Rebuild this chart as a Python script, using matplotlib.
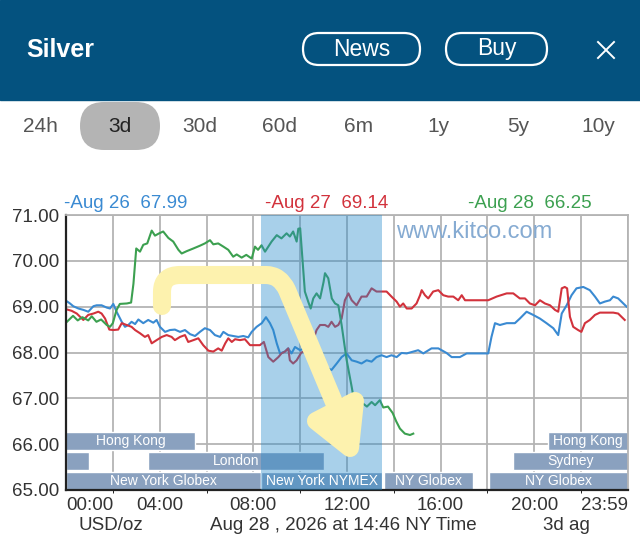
import matplotlib
matplotlib.use("Agg")
import matplotlib.pyplot as plt
from matplotlib.patches import FancyBboxPatch, Rectangle, PathPatch, Polygon
from matplotlib.path import Path

plt.rcParams['font.family'] = ['Liberation Sans', 'DejaVu Sans']

# --- data (hour of day NY time, price USD/oz) ---
aug26_h = [0.0, 0.17, 0.31, 0.53, 0.74, 0.95, 1.17, 1.31, 1.52, 1.74, 1.88, 2.02, 2.16, 2.38, 2.52,
           2.66, 2.8, 2.95, 3.09, 3.3, 3.51, 3.73, 3.87, 4.01, 4.23, 4.44, 4.65, 4.87, 5.08, 5.3,
           5.51, 5.72, 5.93, 6.15, 6.36, 6.58, 6.72, 6.93, 7.14, 7.36, 7.57, 7.78, 7.93, 8.14, 8.36,
           8.54, 8.71, 8.85, 9.0, 9.14, 9.35, 9.49, 9.63, 9.78, 10.0, 10.2, 10.4, 10.63, 10.77, 10.99,
           11.2, 11.34, 11.56, 11.77, 11.98, 12.2, 12.41, 12.62, 12.84, 13.05, 13.26, 13.48, 13.69,
           13.9, 14.12, 14.33, 14.55, 14.83, 15.04, 15.26, 15.61, 15.9, 16.25, 16.47, 16.82, 17.11,
           18.03, 18.17, 18.32, 18.53, 18.82, 19.17, 19.38, 19.67, 19.95, 20.24, 20.52, 20.81, 21.02,
           21.17, 21.38, 21.59, 21.8, 22.09, 22.37, 22.59, 22.8, 23.01, 23.23, 23.37, 23.58, 23.72, 23.94]
aug26_v = [69.13, 69.07, 69.01, 68.96, 68.93, 68.89, 69.01, 69.03, 69.03, 68.98, 68.96, 69.06, 68.89,
           68.67, 68.56, 68.6, 68.67, 68.62, 68.72, 68.64, 68.71, 68.65, 68.71, 68.56, 68.45, 68.49,
           68.5, 68.45, 68.49, 68.4, 68.36, 68.45, 68.53, 68.49, 68.38, 68.34, 68.45, 68.38, 68.36,
           68.34, 68.36, 68.33, 68.45, 68.56, 68.64, 68.77, 68.64, 68.49, 68.2, 67.98, 68.02, 68.09,
           67.98, 68.12, 68.05, 68.1, 68.0, 67.95, 67.87, 67.76, 67.65, 67.62, 67.76, 67.9, 67.98,
           67.83, 67.8, 67.76, 67.83, 67.8, 67.9, 67.94, 67.9, 67.94, 67.9, 67.99, 67.98, 68.02,
           68.05, 67.98, 68.09, 68.09, 67.99, 67.9, 67.9, 67.98, 67.98, 68.34, 68.64, 68.6, 68.64,
           68.64, 68.74, 68.89, 68.82, 68.74, 68.64, 68.53, 68.38, 68.85, 69.03, 69.25, 69.4, 69.43,
           69.36, 69.22, 69.07, 69.11, 69.14, 69.22, 69.18, 69.11, 69.0]

aug27_h = [0.03, 0.24, 0.46, 0.6, 0.74, 0.95, 1.17, 1.38, 1.52, 1.67, 1.85, 2.02, 2.23, 2.38, 2.59,
           2.8, 2.95, 3.16, 3.37, 3.51, 3.66, 3.87, 4.09, 4.3, 4.51, 4.65, 4.87, 5.08, 5.22, 5.44,
           5.65, 5.86, 6.08, 6.29, 6.5, 6.65, 6.8, 6.93, 7.08, 7.22, 7.43, 7.64, 7.86, 8.07, 8.28,
           8.45, 8.64, 8.85, 9.07, 9.2, 9.35, 9.49, 9.56, 9.7, 9.85, 10.05, 10.3, 10.56, 10.7, 10.85,
           11.06, 11.2, 11.34, 11.49, 11.63, 11.77, 11.91, 12.06, 12.2, 12.41, 12.62, 12.84, 13.05,
           13.26, 13.48, 13.69, 13.9, 14.12, 14.26, 14.4, 14.55, 14.76, 14.97, 15.12, 15.19, 15.33,
           15.47, 15.68, 15.9, 16.11, 16.32, 16.54, 16.75, 16.9, 17.04, 17.39, 18.03, 18.39, 18.82,
           19.1, 19.38, 19.6, 19.81, 20.03, 20.24, 20.45, 20.67, 20.88, 21.02, 21.17, 21.3, 21.4,
           21.52, 21.66, 21.87, 22.01, 22.16, 22.37, 22.59, 22.8, 23.08, 23.37, 23.58, 23.72, 23.86]
aug27_v = [68.94, 68.91, 68.85, 68.78, 68.71, 68.82, 68.85, 68.89, 68.85, 68.74, 68.5, 68.49, 68.5,
           68.64, 68.6, 68.56, 68.49, 68.42, 68.34, 68.38, 68.2, 68.27, 68.34, 68.38, 68.34, 68.27,
           68.34, 68.38, 68.23, 68.27, 68.31, 68.16, 68.04, 68.02, 68.09, 68.04, 68.2, 68.31, 68.23,
           68.29, 68.27, 68.29, 68.16, 68.16, 68.16, 68.23, 67.9, 67.8, 67.9, 67.98, 68.02, 68.09,
           67.83, 67.76, 67.83, 68.0, 68.05, 68.27, 68.49, 68.6, 68.6, 68.56, 68.67, 68.56, 68.6,
           68.74, 69.14, 69.29, 69.14, 69.03, 69.22, 69.22, 69.4, 69.33, 69.33, 69.33, 69.22, 69.11,
           69.0, 69.07, 68.96, 68.96, 69.07, 69.25, 69.36, 69.25, 69.18, 69.33, 69.36, 69.25, 69.22,
           69.22, 69.14, 69.25, 69.14, 69.14, 69.14, 69.22, 69.29, 69.29, 69.18, 69.18, 69.07, 69.03,
           69.14, 69.07, 69.03, 68.93, 68.89, 69.4, 69.43, 69.4, 68.78, 68.56, 68.49, 68.45, 68.64,
           68.71, 68.82, 68.87, 68.87, 68.87, 68.85, 68.78, 68.71]

aug28_h = [0.0, 0.3, 0.5, 0.7, 0.95, 1.1, 1.3, 1.5, 1.74, 1.88, 2.0, 2.16, 2.3, 2.6, 2.78, 2.88, 3.0,
           3.16, 3.3, 3.47, 3.66, 3.8, 3.98, 4.15, 4.37, 4.58, 4.8, 4.94, 5.15, 5.44, 5.72, 5.93,
           6.15, 6.29, 6.5, 6.72, 6.93, 7.14, 7.29, 7.5, 7.7, 7.93, 8.07, 8.2, 8.35, 8.5, 8.64, 8.78,
           9.0, 9.2, 9.42, 9.56, 9.7, 9.85, 9.92, 10.0, 10.2, 10.35, 10.45, 10.56, 10.7, 10.85, 11.0,
           11.06, 11.2, 11.35, 11.49, 11.63, 11.77, 11.98, 12.2, 12.3, 12.45, 12.65, 12.85, 13.05,
           13.2, 13.4, 13.55, 13.75, 13.95, 14.1, 14.26, 14.47, 14.69, 14.83]
aug28_v = [68.65, 68.8, 68.7, 68.77, 68.7, 68.79, 68.67, 68.72, 68.6, 68.56, 68.64, 68.93, 69.06,
           69.07, 69.09, 69.5, 70.27, 70.2, 70.35, 70.38, 70.66, 70.55, 70.6, 70.64, 70.5, 70.42,
           70.24, 70.16, 70.21, 70.27, 70.33, 70.38, 70.45, 70.36, 70.38, 70.31, 70.24, 70.09, 70.14,
           70.07, 70.13, 70.05, 70.31, 70.24, 70.34, 70.2, 70.31, 70.42, 70.56, 70.49, 70.6, 70.53,
           70.64, 70.42, 70.7, 70.71, 69.33, 69.1, 68.96, 69.18, 69.29, 69.18, 69.54, 69.73, 69.62,
           69.18, 69.07, 69.03, 68.6, 67.85, 67.25, 66.96, 66.82, 66.9, 66.82, 66.92, 66.85, 66.96,
           66.8, 66.82, 66.68, 66.5, 66.34, 66.23, 66.2, 66.23]

legend_labels = ["-Aug 26  67.99", "-Aug 27  69.14", "-Aug 28  66.25"]

# trading sessions: row 0 = top, 2 = bottom
session_names = ["Hong Kong", "Hong Kong", "", "London", "Sydney",
                 "New York Globex", "New York NYMEX", "NY Globex", "NY Globex"]
session_rows = [0, 0, 1, 1, 1, 2, 2, 2, 2]
session_start = [-0.9, 20.6, 0.0, 3.5, 19.1, 0.0, 8.33, 13.6, 18.05]
session_end = [5.5, 24.0, 1.0, 11.0, 24.0, 8.33, 13.5, 17.4, 24.0]
nymex_open, nymex_close = 8.33, 13.5

xtick_hours = [0, 4, 8, 12, 16, 20, 24]
xtick_labels = ["00:00", "04:00", "08:00", "12:00", "16:00", "20:00", "23:59"]
ytick_vals = [65, 66, 67, 68, 69, 70, 71]

tabs = ["24h", "3d", "30d", "60d", "6m", "1y", "5y", "10y"]

blue = "#3a8ad2"
red = "#d2323c"
green = "#3ca050"

fig = plt.figure(figsize=(6.4, 5.6), dpi=100)
ax = fig.add_axes([66 / 640, 1 - 490 / 560, (628 - 66) / 640, (490 - 215) / 560])

ax.set_xlim(0, 24)
ax.set_ylim(65, 71)
ax.set_xticks(range(0, 25, 2), minor=True)
ax.set_xticks(xtick_hours)
ax.set_xticklabels(xtick_labels)
ax.set_yticks(ytick_vals)
ax.set_yticklabels([f"{v:.2f}" for v in ytick_vals])
ax.tick_params(length=0, labelsize=13.5, colors="#333333", pad=5)
ax.tick_params(axis="x", pad=5)
lbls = ax.get_xticklabels()
lbls[0].set_ha("left")
lbls[-1].set_ha("right")

ax.grid(True, which="both", color="#b4b4b4", lw=1.3, zorder=0)
ax.set_axisbelow(True)
for s in ["top", "right"]:
    ax.spines[s].set_color("#b4b4b4")
    ax.spines[s].set_linewidth(1.3)
for s in ["left", "bottom"]:
    ax.spines[s].set_color("#222222")
    ax.spines[s].set_linewidth(1.6)

ax.text(17.45, 70.62, "www.kitco.com", color="#86abd2", fontsize=17, ha="center", va="center", zorder=1)

row_h = 0.39
row_top = [66.27, 65.83, 65.39]
for name, r, a, b in zip(session_names, session_rows, session_start, session_end):
    yc = row_top[r] - row_h / 2
    ax.barh(yc, b - a, left=a, height=row_h, color="#8aa1bf", edgecolor="white", lw=1, zorder=1.2)
    if name:
        ax.text((max(a, 0) + min(b, 24)) / 2, yc, name, color="white", fontsize=10,
                ha="center", va="center", zorder=3.5)

ax.plot(aug26_h, aug26_v, color=blue, lw=1.5, zorder=2)
ax.plot(aug27_h, aug27_v, color=red, lw=1.5, zorder=2)
ax.plot(aug28_h, aug28_v, color=green, lw=1.5, zorder=2)

ax.axvspan(nymex_open, nymex_close, color="#268acb", alpha=0.4, lw=0, zorder=3)

# overlay in pixel coordinates for the app chrome and the yellow scribble
ov = fig.add_axes([0, 0, 1, 1], zorder=10)
ov.set_xlim(0, 640)
ov.set_ylim(560, 0)
ov.axis("off")
ov.patch.set_alpha(0)

ov.add_patch(Rectangle((0, 0), 640, 100, color="#04527f", zorder=1))
ov.text(26, 50, "Silver", color="white", fontsize=18, fontweight="bold", va="center", ha="left")
for lab, x0, x1 in [("News", 303, 420), ("Buy", 446, 547)]:
    ov.add_patch(FancyBboxPatch((x0, 33), x1 - x0, 32, boxstyle="round,pad=0,rounding_size=16",
                                fc="none", ec="white", lw=1.6, zorder=2))
    ov.text((x0 + x1) / 2, 49, lab, color="white", fontsize=16.5, ha="center", va="center")
ov.plot([598, 614], [42, 58], color="white", lw=1.4)
ov.plot([598, 614], [58, 42], color="white", lw=1.4)

ov.add_patch(FancyBboxPatch((80, 102), 80, 48, boxstyle="round,pad=0,rounding_size=24",
                            fc="#b4b4b4", ec="none", zorder=1))
for i, t in enumerate(tabs):
    ov.text(40 + i * 79.7, 127, t, color="#222222" if t == "3d" else "#555555",
            fontsize=15, ha="center", va="center", zorder=2)

for lab, col, x in zip(legend_labels, [blue, red, green], [64, 265, 468]):
    ov.text(x, 204, lab, color=col, fontsize=13.5, ha="left", va="center")

ov.text(111, 525, "USD/oz", color="#333333", fontsize=13.5, ha="center", va="center")
ov.text(343, 525, "Aug 28 , 2026 at 14:46 NY Time", color="#333333", fontsize=13.5, ha="center", va="center")
ov.text(566, 525, "3d ag", color="#333333", fontsize=13.5, ha="center", va="center")

yellow = "#fdf2ae"
verts = [(162, 306), (162, 292), (162, 275), (180, 275), (266, 275), (280, 275), (287, 290), (349, 438)]
codes = [Path.MOVETO, Path.LINETO, Path.CURVE3, Path.CURVE3, Path.LINETO, Path.CURVE3, Path.CURVE3, Path.LINETO]
ov.add_patch(PathPatch(Path(verts, codes), fc="none", ec=yellow, lw=13, capstyle="round",
                       joinstyle="round", zorder=5))
ov.add_patch(Polygon([(316, 421), (355, 401), (350, 448)], closed=True, fc=yellow, ec=yellow, lw=13,
                     joinstyle="round", zorder=5))

fig.savefig("out.png", dpi=100)
